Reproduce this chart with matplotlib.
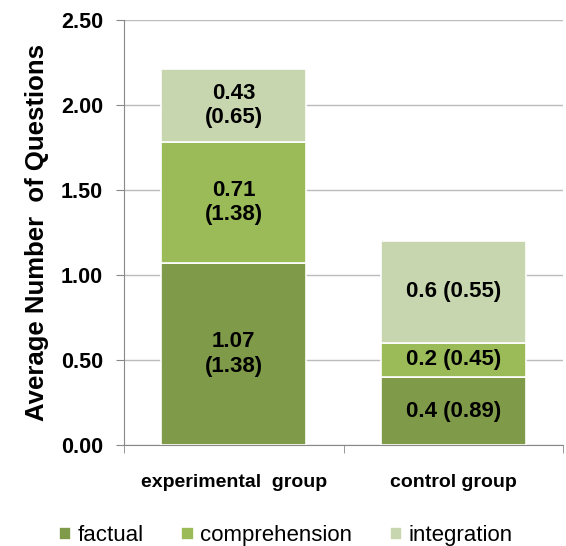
import numpy as np
import matplotlib.pyplot as plt

plt.rcParams['font.family'] = ['Liberation Sans', 'DejaVu Sans']

# data
groups = ["experimental  group", "control group"]
factual = [1.07, 0.4]
comprehension = [0.71, 0.2]
integration = [0.43, 0.6]
lab_factual = ["1.07\n(1.38)", "0.4 (0.89)"]
lab_compr = ["0.71\n(1.38)", "0.2 (0.45)"]
lab_integr = ["0.43\n(0.65)", "0.6 (0.55)"]

col_f = "#7F9A48"
col_c = "#9BBB59"
col_i = "#C7D6AE"

fig = plt.figure(figsize=(5.66, 5.46), dpi=100)
ax = fig.add_axes([124/566, 1-445/546, (563-124)/566, (445-20)/546])

x = np.arange(len(groups))
w = 0.66
f = np.array(factual)
c = np.array(comprehension)
i = np.array(integration)

b1 = ax.bar(x, f, w, color=col_f, edgecolor="white", linewidth=1.2, label="factual", zorder=3)
b2 = ax.bar(x, c, w, bottom=f, color=col_c, edgecolor="white", linewidth=1.2, label="comprehension", zorder=3)
b3 = ax.bar(x, i, w, bottom=f+c, color=col_i, edgecolor="white", linewidth=1.2, label="integration", zorder=3)

for bars, labs in [(b1, lab_factual), (b2, lab_compr), (b3, lab_integr)]:
    ax.bar_label(bars, labels=labs, label_type="center", fontsize=16,
                 fontweight="bold", color="black", linespacing=1.2)

ax.set_xlim(-0.5, 1.5)
ax.set_ylim(0, 2.5)
ax.set_yticks(np.arange(0, 2.51, 0.5))
ax.set_yticklabels([f"{v:.2f}" for v in np.arange(0, 2.51, 0.5)], fontsize=15.5, fontweight="bold")
ax.set_xticks(x)
ax.set_xticklabels(groups, fontsize=14, fontweight="bold")
ax.set_xticks([-0.5, 0.5, 1.5], minor=True)
ax.tick_params(axis="x", which="major", length=0, pad=21)
ax.tick_params(axis="x", which="minor", length=6, color="#888888", direction="out")
ax.tick_params(axis="y", length=6, color="#888888", direction="out", pad=9)

ax.yaxis.grid(True, color="#BBBBBB", linewidth=1, zorder=0)
ax.set_axisbelow(True)
for s in ["top", "right"]:
    ax.spines[s].set_visible(False)
ax.spines["left"].set_color("#888888")
ax.spines["bottom"].set_color("#888888")

ax.set_ylabel("Average Number  of Questions", fontsize=18.5, fontweight="bold", labelpad=9)

fig.legend(handles=[b1, b2, b3], loc="lower center", bbox_to_anchor=(0.505, -0.037),
           ncol=3, frameon=False, fontsize=16, handlelength=0.55, handleheight=0.55,
           handletextpad=0.3, columnspacing=1.7)

fig.savefig("out.png", dpi=100)
